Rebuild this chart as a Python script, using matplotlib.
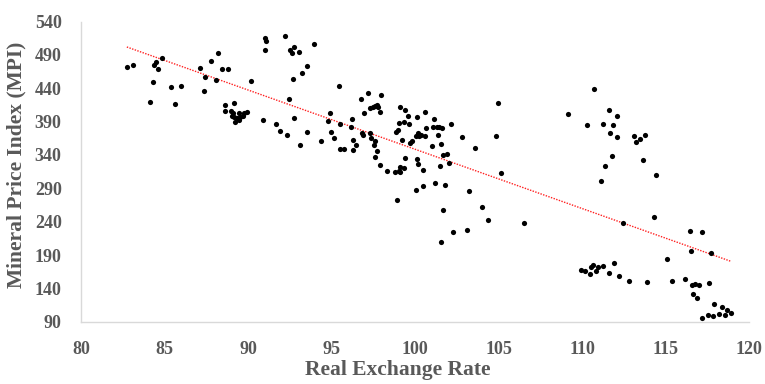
import numpy as np
import matplotlib.pyplot as plt

# Real exchange rate vs mineral price index
rer = [
    82.74, 83.08, 84.14, 84.32, 84.34, 84.48, 84.58, 84.85, 85.41, 85.65, 85.99,
    87.15, 87.35, 87.41, 87.81, 88.07, 88.23, 88.45, 88.81,
    88.59, 89.15, 88.59, 88.99, 89.11, 89.45, 89.75, 89.91, 89.71, 89.50, 89.31,
    89.19, 89.45, 89.15, 89.05,
    90.15, 90.91, 91.03, 91.03, 91.09, 91.69, 91.93, 92.23, 92.35, 92.45, 92.51,
    92.65, 92.75, 93.05, 92.71, 92.77, 93.13, 93.21, 93.55, 93.55, 93.95,
    95.42, 94.91, 94.76, 95.50, 94.95, 95.12, 94.37, 95.48, 95.74, 96.23, 96.16,
    96.26, 96.46, 96.26, 96.74, 97.16, 97.96, 96.92, 97.32, 97.46, 97.72, 97.80,
    97.88, 96.82, 96.86, 97.30, 97.36, 97.62, 97.54, 97.72, 97.58, 97.88, 98.34,
    98.78, 99.10, 99.34, 99.12, 98.94, 99.42, 99.12, 99.38, 99.58, 99.04, 99.32,
    99.66, 98.96, 98.88, 99.20, 99.72, 99.80, 100.14, 100.62, 100.16, 100.06,
    100.22, 100.58, 100.68, 100.14, 100.16, 100.50, 100.04, 100.46, 101.16,
    101.08, 101.30, 101.46, 101.64, 101.36, 101.54, 101.04, 101.70, 101.92,
    102.06, 101.48, 101.20, 101.78, 101.66, 101.58, 102.28, 102.18, 102.82,
    103.60, 103.24, 103.10, 104.02, 104.37, 104.98, 104.86, 105.18, 106.53,
    97.60, 100.36, 99.02,
    109.15, 110.71, 110.31, 111.63, 112.09, 111.25, 111.85, 111.67, 112.09,
    113.09, 113.23, 113.45, 113.80, 111.79, 111.35, 111.13, 113.68, 114.46,
    114.34, 112.48, 116.46, 117.20, 116.54, 117.70, 115.08,
    109.93, 110.21, 110.47, 110.57, 110.65, 110.85, 110.95, 111.23, 111.59,
    111.89, 112.21, 112.83, 113.92, 115.38, 116.20, 116.58, 116.74, 117.00,
    117.62, 116.65, 116.88, 117.88, 118.40, 118.70, 118.94, 118.58, 118.18,
    117.84, 117.54, 117.16,
]
mpi = [
    472.0, 475.0, 419.0, 449.0, 474.6, 480.0, 469.5, 485.5, 442.5, 416.5, 443.5,
    470.0, 436.5, 457.0, 481.5, 452.0, 492.6, 468.6, 468.6,
    415.0, 417.5, 406.5, 406.5, 402.5, 403.5, 403.5, 405.0, 398.5, 397.5, 395.0,
    390.0, 392.5, 396.5, 398.5,
    451.0, 392.5, 497.0, 516.0, 510.5, 386.5, 376.0, 518.0, 369.6, 424.0, 497.5,
    493.5, 502.0, 494.0, 454.0, 396.0, 355.5, 463.5, 474.0, 374.0, 506.5,
    443.0, 403.5, 391.0, 386.5, 374.0, 365.5, 361.5, 349.0, 349.0, 394.5, 381.5,
    362.5, 355.0, 347.0, 424.0, 432.5, 429.5, 403.5, 411.0, 412.5, 415.0, 412.5,
    405.0, 373.5, 370.0, 373.5, 366.0, 361.0, 355.0, 346.0, 337.5, 325.0, 315.5,
    314.5, 321.5, 321.0, 314.5, 272.0, 335.5, 411.5, 407.5, 399.0, 388.5, 389.0,
    386.5, 377.5, 375.0, 362.5, 358.5, 361.5, 396.5, 404.0, 372.5, 368.5,
    368.5, 369.0, 380.5, 334.5, 326.5, 317.0, 287.5, 294.0, 394.0,
    382.5, 382.5, 382.0, 380.5, 370.5, 356.0, 353.0, 340.5, 341.5,
    328.5, 324.0, 298.0, 294.5, 257.5, 209.5, 224.0, 386.0, 367.5,
    350.0, 286.5, 228.0, 262.5, 242.0, 417.5, 369.0, 313.5, 238.5,
    414.0, 370.0, 316.5,
    401.0, 438.6, 384.5, 407.5, 399.0, 386.5, 385.5, 373.0, 366.5,
    368.0, 359.5, 364.5, 370.0, 338.5, 324.0, 301.0, 332.5, 309.5,
    247.0, 237.5, 226.0, 224.0, 196.0, 193.5, 184.5,
    167.0, 166.0, 161.5, 171.5, 175.0, 165.5, 172.0, 174.0, 162.5,
    177.5, 158.5, 151.5, 149.5, 151.5, 153.5, 145.0, 146.0, 145.0,
    147.5, 131.5, 126.0, 117.0, 112.5, 108.0, 103.5, 100.0, 101.5,
    99.0, 100.0, 95.0,
]

x_ticks = list(range(80, 121, 5))
y_ticks = list(range(90, 541, 50))

x = np.array(rer)
y = np.array(mpi)

plt.rcParams['font.family'] = ['Liberation Serif', 'DejaVu Serif']
grey = '#595959'

fig = plt.figure(figsize=(7.65, 3.84), dpi=100)
ax = fig.add_axes([0.106, 0.162, 0.873, 0.782])

ax.scatter(x, y, s=14, color='black', zorder=3, linewidths=0)

# linear trend line (like Excel's)
slope, intercept = np.polyfit(x, y, 1)
xl = np.array([x.min(), x.max()])
ax.plot(xl, slope * xl + intercept, color='#ff2020', linewidth=1.0,
        linestyle=(0, (1, 1)), zorder=2)

ax.set_xlim(80, 120)
ax.set_ylim(90, 540)
ax.set_xticks(x_ticks)
ax.set_yticks(y_ticks)
ax.tick_params(length=0, labelsize=13, labelcolor=grey)
ax.tick_params(axis='x', pad=14)
ax.tick_params(axis='y', pad=14)
for lab in ax.get_xticklabels() + ax.get_yticklabels():
    lab.set_fontweight('bold')

for side in ['top', 'right']:
    ax.spines[side].set_visible(False)
for side in ['left', 'bottom']:
    ax.spines[side].set_color('#d9d9d9')
    ax.spines[side].set_linewidth(1)

ax.set_xlabel('Real Exchange Rate', fontsize=15.5, fontweight='bold', color=grey, va='center')
ax.set_ylabel('Mineral Price Index (MPI)', fontsize=15.5, fontweight='bold', color=grey, va='center')
ax.xaxis.set_label_coords(0.4746, -0.16)
ax.yaxis.set_label_coords(-0.097, 0.522)

plt.savefig('out.png', dpi=100)
